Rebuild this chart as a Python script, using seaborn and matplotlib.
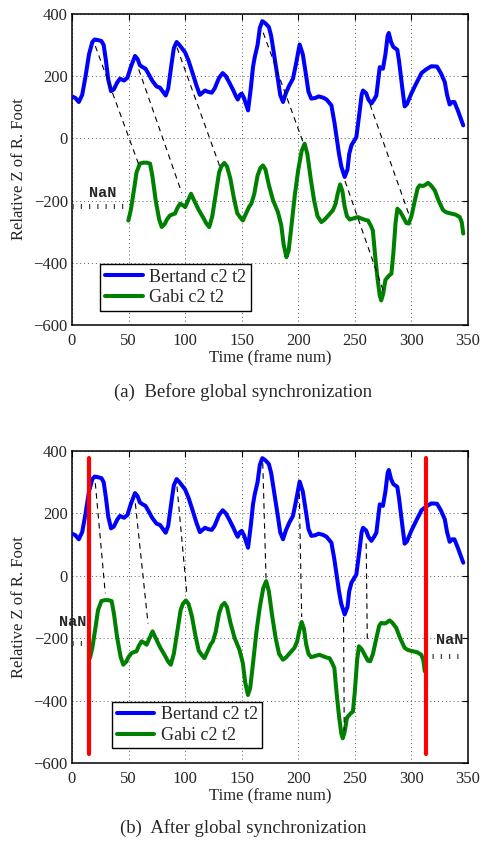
import numpy as np
import matplotlib
matplotlib.use("Agg")
import matplotlib.pyplot as plt
import seaborn as sns

# Bertand c2 t2 (frame, relative Z)
bert_frame = [0, 3, 6, 9, 12, 15, 18, 20, 23, 26, 28, 30, 32, 34.5, 37, 40, 42.4, 46, 49, 52,
              55.7, 58, 60, 62.5, 65, 68, 71, 74.8, 77.8, 80, 82.8, 85, 88, 90, 92.5, 95, 99.9,
              103, 107, 110, 113, 117.6, 120, 123.5, 126, 130, 133.2, 136, 139, 142.6, 145,
              146.5, 148.5, 150, 152, 155.6, 158, 160, 161.5, 164, 166, 168.2, 171, 174, 176,
              179, 182, 184, 186.5, 189, 192, 195.3, 198, 201.2, 204, 207, 209, 211.5, 215,
              218, 222, 225, 229.3, 232, 234, 236, 238, 241, 243.5, 245, 247, 251.3, 254, 256,
              257.2, 260, 262, 264.6, 267, 269, 271, 272, 274.8, 277, 279, 280, 282, 284,
              287.5, 289, 292, 294, 296, 300, 304, 308.9, 313, 317.6, 322.6, 326, 329.5,
              331.5, 333.8, 336, 338, 341, 343, 345.8]
bert_z = [135, 130, 117, 140, 200, 270, 310, 318, 316, 313, 300, 250, 190, 152, 158, 180, 192,
          186, 195, 230, 265, 255, 235, 229, 224, 205, 185, 167, 163, 152, 138, 160, 240, 290,
          310, 300, 277, 250, 205, 170, 140, 154, 150, 147, 160, 195, 210, 200, 180, 154, 135,
          125, 140, 144, 130, 90, 160, 230, 261, 300, 355, 377, 370, 358, 330, 260, 190, 140,
          117, 145, 170, 192, 240, 302, 270, 200, 150, 128, 130, 135, 131, 125, 106, 50, 0,
          -50, -90, -124, -100, -50, -22, 4, 80, 140, 154, 145, 125, 112, 125, 138, 200, 229,
          224, 270, 330, 339, 310, 294, 285, 250, 160, 103, 110, 145, 175, 210, 222, 232, 231,
          210, 181, 140, 109, 117, 117, 90, 70, 42]

# Gabi c2 t2 (frame, relative Z), before synchronization
gabi_frame = [49.8, 52, 55, 57, 60, 63, 66, 69, 71, 74, 77, 79.3, 82, 84, 86.6, 89, 91, 93,
              95.5, 98, 100, 102.5, 105.2, 108, 112, 116, 119, 121.3, 124, 127, 130, 132,
              134.6, 137, 140, 143, 146, 148.5, 151, 154, 156.5, 158.5, 161, 164, 166.5, 168.8,
              171, 174, 177.7, 182, 185, 187, 189.5, 191.5, 194, 197, 200, 203, 205.6, 208,
              211, 214, 217, 220.4, 223, 226, 230.6, 233, 235, 237, 239, 241, 243, 245.4, 248,
              252.7, 256, 259, 261.6, 264, 265.9, 268, 270, 272, 273.3, 275, 277, 280, 282.3,
              284, 286, 287.6, 290, 293, 295.5, 297.6, 300, 303, 305.5, 307.3, 310, 311.7,
              314.7, 317, 320.6, 324, 328, 331, 335.4, 339, 342.7, 344.5, 345.8]
gabi_z = [-264, -230, -160, -110, -81, -78, -78, -81, -120, -200, -260, -285, -275, -260, -248,
          -244, -242, -225, -210, -215, -221, -200, -178, -200, -230, -255, -275, -285, -250,
          -180, -110, -90, -79, -90, -130, -190, -240, -253, -264, -240, -220, -210, -180,
          -120, -95, -87, -100, -150, -199, -237, -280, -340, -382, -360, -280, -180, -100,
          -40, -17, -50, -130, -200, -250, -269, -262, -250, -231, -210, -175, -148, -170,
          -220, -250, -261, -258, -253, -258, -262, -264, -280, -296, -380, -450, -505, -521,
          -500, -455, -442, -435, -370, -270, -226, -235, -255, -272, -274, -250, -200, -160,
          -151, -153, -151, -143, -150, -167, -200, -231, -238, -242, -245, -253, -270, -306]

sync_shift = 34  # frames removed by global synchronization

# matched peaks (dashed links): blue end -> green end
links_a = [(20.6, 297, 59, -84), (59, 222, 97, -175), (92.8, 292, 131, -94),
           (169, 340, 204.4, -14), (241.3, -137, 275.2, -491), (263.4, 109, 298.8, -255)]
links_b = [(20.6, 297, 29.4, -56), (56, 232, 67.2, -153), (92.8, 286, 101.6, -62),
           (168.6, 361, 171.5, -8), (200.9, 264, 203, -132), (240, -132, 240.6, -495),
           (260, 104, 261, -206)]

# NaN markers: (text x, text y, dotted x0, dotted x1, dotted y)
nan_a = [(27, -174, 0, 45.7, -216)]
nan_b = [(1, -148, 0, 11.6, -215), (333.8, -206, 318, 343, -257)]

# synchronization bounds (after)
sync_bounds = [14.7, 313.2]
sync_span = (-570, 376)

sns.set_style("white")
plt.rcParams['font.family'] = ['Liberation Serif', 'DejaVu Serif']
plt.rcParams['axes.unicode_minus'] = True

fig = plt.figure(figsize=(4.86, 8.42), dpi=100)
ax1 = fig.add_axes([72 / 486, 1 - 325 / 842, 396 / 486, 311 / 842])
ax2 = fig.add_axes([72 / 486, 1 - 763 / 842, 396 / 486, 312 / 842])

nan_style = dict(color='0.25', lw=3.6, dashes=(0.25, 1.4), solid_capstyle='butt',
                 dash_capstyle='butt')


def panel(ax, shift, links, nans, leg_anchor, bounds):
    gx = [f - shift for f in gabi_frame]
    sns.lineplot(x=bert_frame, y=bert_z, ax=ax, color=(0, 0, 1), lw=2.9, sort=False,
                 estimator=None, label='Bertand c2 t2', zorder=4)
    sns.lineplot(x=gx, y=gabi_z, ax=ax, color=(0, 0.5, 0), lw=2.9, sort=False,
                 estimator=None, label='Gabi c2 t2', zorder=4)
    for x0, y0, x1, y1 in links:
        ax.plot([x0, x1], [y0, y1], color='k', lw=0.8, ls=(0, (5, 4)), zorder=5)
    for tx, ty, d0, d1, dy in nans:
        ax.plot([d0, d1], [dy, dy], zorder=3, **nan_style)
        ax.text(tx, ty, 'NaN', family=['Liberation Mono', 'DejaVu Sans Mono'],
                weight='bold', fontsize=11, ha='center', va='center', zorder=3)
    if bounds:
        for b in bounds:
            ax.plot([b, b], list(sync_span), color='red', lw=3.0, zorder=6)
    ax.set_xlim(0, 350)
    ax.set_ylim(-600, 400)
    ax.set_xticks(np.arange(0, 351, 50))
    ax.set_yticks(np.arange(-600, 401, 200))
    ax.grid(True, color='0.35', ls=(0, (1, 3)), lw=0.7)
    ax.tick_params(direction='in', top=True, right=True, length=4, width=0.8,
                   labelsize=12, pad=3, color='k')
    ax.tick_params(axis='x', pad=6)
    for s in ax.spines.values():
        s.set_color('k')
        s.set_linewidth(1.1)
        s.set_visible(True)
    ax.set_xlabel('Time (frame num)', fontsize=12, labelpad=1)
    ax.set_ylabel('Relative Z of R. Foot', fontsize=12, labelpad=5)
    leg = ax.legend(loc='lower left', bbox_to_anchor=leg_anchor, borderaxespad=0,
                    fontsize=13, frameon=True, fancybox=False, framealpha=1,
                    edgecolor='k', handlelength=2.1, handletextpad=0.35,
                    borderpad=0.25, labelspacing=0.2)
    leg.get_frame().set_linewidth(1.0)
    leg.set_zorder(10)


panel(ax1, 0, links_a, nan_a, (0.0715, 0.046), None)
panel(ax2, sync_shift, links_b, nan_b, (0.101, 0.047), sync_bounds)

fig.text(0.5, 1 - 392 / 842, '(a)  Before global synchronization', ha='center',
         va='center', fontsize=13.5)
fig.text(0.5, 1 - 828 / 842, '(b)  After global synchronization', ha='center',
         va='center', fontsize=13.5)

fig.savefig('out.png', dpi=100)
